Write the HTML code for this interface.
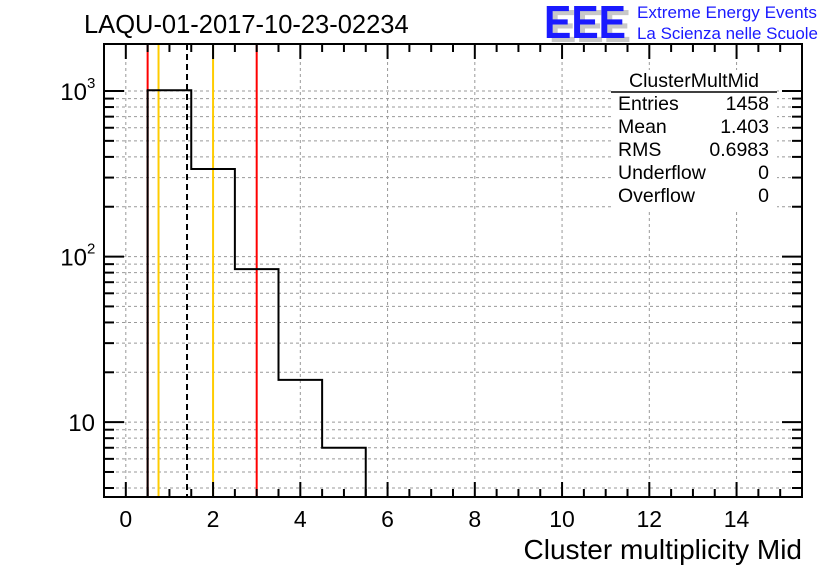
<!DOCTYPE html>
<html><head><meta charset="utf-8"><style>
body{margin:0;background:#fff;}
svg{display:block;font-family:"Liberation Sans",Arial,sans-serif;}
</style></head><body>
<svg id="chart" width="836" height="572" viewBox="0 0 836 572" xmlns="http://www.w3.org/2000/svg">
<rect width="836" height="572" fill="#fff"/>
<text x="84" y="33" font-size="25.5">LAQU-01-2017-10-23-02234</text>
<g>
<text x="549" y="42" font-size="46" font-weight="bold" fill="#c8c8c8" textLength="82" lengthAdjust="spacingAndGlyphs">EEE</text>
<text x="544" y="38" font-size="46" font-weight="bold" fill="#1a1aff" textLength="82" lengthAdjust="spacingAndGlyphs">EEE</text>
<text x="637" y="18" font-size="17" fill="#1a1aff" textLength="180" lengthAdjust="spacingAndGlyphs">Extreme Energy Events</text>
<text x="637" y="39" font-size="17" fill="#1a1aff" textLength="181" lengthAdjust="spacingAndGlyphs">La Scienza nelle Scuole</text>
</g>
<g id="grid"></g>
<g id="marks"></g>
<g id="axes"></g>
<g font-size="19.5">
<rect x="611" y="70" width="166" height="140" fill="#fff"/>
<text x="694" y="87" text-anchor="middle">ClusterMultMid</text>
<line x1="611" y1="92" x2="777" y2="92" stroke="#000" stroke-width="1.5"/>
<text x="618" y="110">Entries</text><text x="769" y="110" text-anchor="end">1458</text>
<text x="618" y="133">Mean</text><text x="769" y="133" text-anchor="end">1.403</text>
<text x="618" y="156">RMS</text><text x="769" y="156" text-anchor="end">0.6983</text>
<text x="618" y="179">Underflow</text><text x="769" y="179" text-anchor="end">0</text>
<text x="618" y="202">Overflow</text><text x="769" y="202" text-anchor="end">0</text>
</g>
<text x="802" y="559" font-size="28" text-anchor="end">Cluster multiplicity Mid</text>
</svg>
<script>
const binEdges=[0.5,1.5,2.5,3.5,4.5,5.5];
const binCounts=[1011,338,84,18,7];
const xTickLabels=[0,2,4,6,8,10,12,14];
const yTickDecades=[1,2,3];
const redLines=[0.5,3];
const yellowLines=[0.75,2];
const meanValue=1.403;

const L=104,R=802,T=44,B=497;
const xMin=-0.5,xMax=15.5,yMin=Math.log10(3.53),yMax=Math.log10(1923);
const X=v=>L+(v-xMin)/(xMax-xMin)*(R-L);
const Y=v=>B-(Math.log10(v)-yMin)/(yMax-yMin)*(B-T);
const NS="http://www.w3.org/2000/svg";
function mk(tag,parent,attrs){const e=document.createElementNS(NS,tag);for(const k in attrs)e.setAttribute(k,attrs[k]);parent.appendChild(e);return e;}
const grid=document.getElementById('grid'),marks=document.getElementById('marks'),axes=document.getElementById('axes');

for(const t of xTickLabels){const l=mk('line',grid,{x1:X(t),x2:X(t),y1:T,y2:B,stroke:'#999','stroke-dasharray':'3,3','stroke-width':1});

}
const yMinors=[];
for(let d=0;d<=3;d++)for(let m=1;m<=9;m++){const v=m*Math.pow(10,d);if(Math.log10(v)>=yMin&&Math.log10(v)<=yMax)yMinors.push({v,major:m===1});}
for(const o of yMinors){const l=mk('line',grid,{x1:L,x2:R,y1:Y(o.v),y2:Y(o.v),stroke:'#999','stroke-dasharray':'3,3','stroke-width':1});

}

for(const v of redLines){const l=mk('line',marks,{x1:X(v),x2:X(v),y1:T,y2:B,stroke:'#f00','stroke-width':2});

}
for(const v of yellowLines){const l=mk('line',marks,{x1:X(v),x2:X(v),y1:T,y2:B,stroke:'#ffcc00','stroke-width':2});

}
const ml=mk('line',marks,{x1:X(meanValue),x2:X(meanValue),y1:T,y2:B,stroke:'#000','stroke-width':2,'stroke-dasharray':'6,4'});



let d=`M${X(binEdges[0])},${B}`;
for(let i=0;i<binCounts.length;i++){d+=` L${X(binEdges[i])},${Y(binCounts[i])} L${X(binEdges[i+1])},${Y(binCounts[i])}`;}
d+=` L${X(binEdges[binEdges.length-1])},${B}`;
const hp=mk('path',marks,{d,fill:'none',stroke:'#000','stroke-width':2});



const fr=mk('rect',axes,{x:L,y:T,width:R-L,height:B-T,fill:'none',stroke:'#000','stroke-width':2});


for(let v=0;v<=15.01;v+=0.5){const maj=Math.abs(v%2)<1e-6;const len=maj?15:8;
mk('line',axes,{x1:X(v),x2:X(v),y1:B,y2:B-len,stroke:'#000','stroke-width':2});
mk('line',axes,{x1:X(v),x2:X(v),y1:T,y2:T+len,stroke:'#000','stroke-width':2});}
for(const t of xTickLabels){const tx=mk('text',axes,{x:X(t),y:527,'font-size':23,'text-anchor':'middle'});tx.textContent=t;

}
for(const o of yMinors){const len=o.major?20:10;
mk('line',axes,{x1:L,x2:L+len,y1:Y(o.v),y2:Y(o.v),stroke:'#000','stroke-width':2});
mk('line',axes,{x1:R,x2:R-len,y1:Y(o.v),y2:Y(o.v),stroke:'#000','stroke-width':2});}
for(const dd of yTickDecades){const y=Y(Math.pow(10,dd));
const tx=mk('text',axes,{x:dd===1?95:87,y:y+9,'font-size':24,'text-anchor':'end'});tx.textContent='10';


if(dd>1){const s=mk('text',axes,{x:87,y:y-3,'font-size':15});s.textContent=String(dd);

}}
</script>
</body></html>
